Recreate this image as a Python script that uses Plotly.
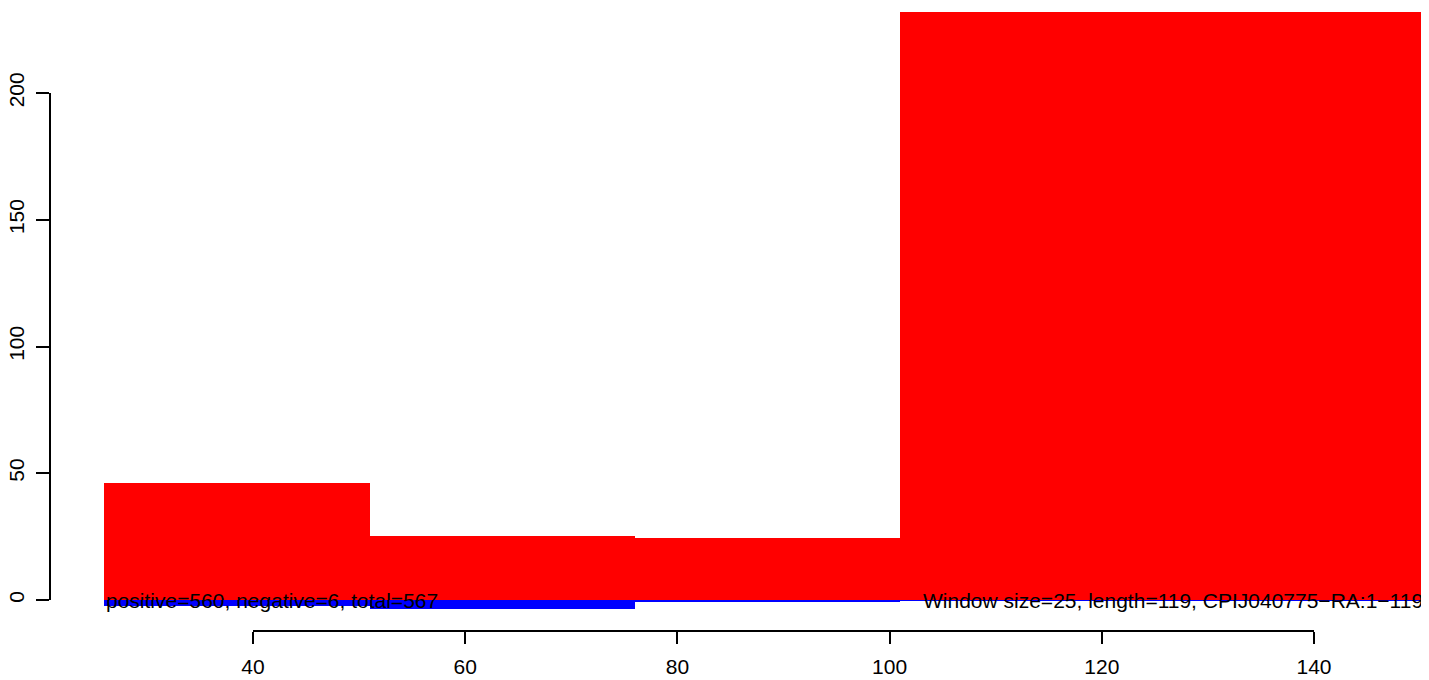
import plotly.graph_objects as go

# sliding-window counts
win_start = [26, 51, 76, 101]
win_end = [51, 76, 101, 151]
positive = [46.2, 25.2, 24.4, 232.0]
negative = [-2.4, -3.5, -0.6, -0.3]

x_ticks = [40, 60, 80, 100, 120, 140]
y_ticks = [0, 50, 100, 150, 200]

summary_text = "positive=560, negative=6, total=567"
info_text = "Window size=25, length=119, CPIJ040775\u2212RA:1\u2212119"

# the page body has an 8px margin, so the figure sits at (8, 8) in the window
OFF = 8
W, H = 1429 - OFF, 680 - OFF
FONT = dict(family="Liberation Sans, Arial, sans-serif", size=21, color="black")

centers = [(a + b) / 2 for a, b in zip(win_start, win_end)]
widths = [b - a for a, b in zip(win_start, win_end)]

fig = go.Figure()
fig.add_trace(go.Bar(x=centers, y=positive, width=widths,
                     marker=dict(color="#FF0000", line_width=0)))
fig.add_trace(go.Bar(x=centers, y=negative, width=widths,
                     marker=dict(color="#0000FF", line_width=0)))
# empty trace so the visible axes get their own subplot
fig.add_trace(go.Scatter(x=[], y=[], xaxis="x2", yaxis="y2"))

# window pixels: x=40 at 253, x=140 at 1314; y=0 at 600, y=200 at 93
def fx(p):
    return (p - OFF) / W

def fy(p):
    return (H - (p - OFF)) / H

px_per_x = (1314 - 253) / 100
px_per_y = (600 - 93) / 200
x0 = 40 - (253 - OFF) / px_per_x
x1 = x0 + W / px_per_x
y1 = (600 - OFF) / px_per_y
y0 = y1 - H / px_per_y

fig.add_annotation(x=win_start[0], y=0, text=summary_text, xref="x", yref="y",
                   xanchor="left", yanchor="middle", showarrow=False, font=FONT)
fig.add_annotation(x=103, y=0, text=info_text, xref="x", yref="y",
                   xanchor="left", yanchor="middle", showarrow=False, font=FONT)

fig.update_layout(
    width=W, height=H,
    margin=dict(l=0, r=0, t=0, b=0, autoexpand=False),
    paper_bgcolor="white", plot_bgcolor="rgba(0,0,0,0)",
    barmode="overlay", bargap=0, showlegend=False,
    font=FONT,
    xaxis=dict(range=[x0, x1], domain=[0, 1], visible=False, fixedrange=True),
    yaxis=dict(range=[y0, y1], domain=[0, 1], visible=False, fixedrange=True),
    xaxis2=dict(range=[40, 140], domain=[fx(253), fx(1314)], anchor="free",
                position=fy(631), showline=True, linecolor="black", linewidth=1.5,
                ticks="outside", ticklen=12, tickwidth=1.5, tickcolor="black",
                tickvals=x_ticks, showgrid=False, zeroline=False, tickfont=FONT,
                ticklabelstandoff=5, automargin=False),
    yaxis2=dict(range=[0, 200], domain=[fy(600), fy(93)], anchor="free",
                position=fx(50), showline=True, linecolor="black", linewidth=1.5,
                ticks="outside", ticklen=13, tickwidth=1.5, tickcolor="black",
                tickvals=y_ticks, showgrid=False, zeroline=False, tickfont=FONT,
                tickangle=-90, ticklabelstandoff=4, automargin=False),
)

fig.write_html("out.html")
